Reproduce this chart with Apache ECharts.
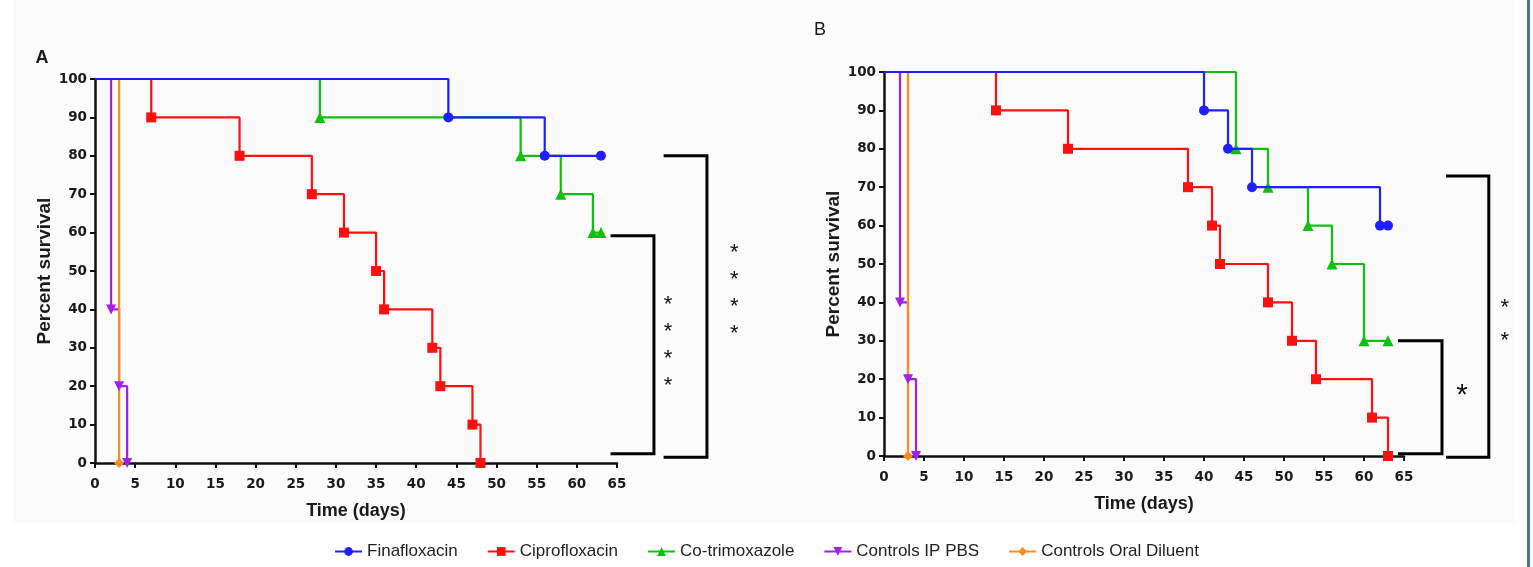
<!DOCTYPE html>
<html>
<head>
<meta charset="utf-8">
<script src="https://cdn.jsdelivr.net/npm/echarts@6/dist/echarts.min.js"></script>
<style>
  html, body { margin: 0; padding: 0; background: #ffffff; }
  #chart { width: 1533px; height: 567px; }
</style>
</head>
<body>
<div id="chart"></div>
<script>
// panel A (days, percent survival)
const aFinaDays = [0, 44, 56, 63];
const aFinaSurv = [100, 90, 80, 80];
const aCiproDays = [0, 7, 18, 27, 31, 35, 36, 42, 43, 47, 48];
const aCiproSurv = [100, 90, 80, 70, 60, 50, 40, 30, 20, 10, 0];
const aCotriDays = [0, 28, 53, 58, 62, 63];
const aCotriSurv = [100, 90, 80, 70, 60, 60];
const aPbsDays = [0, 2, 3, 4];
const aPbsSurv = [100, 40, 20, 0];
const aOralDays = [0, 3];
const aOralSurv = [100, 0];

// panel B
const bFinaDays = [0, 40, 43, 46, 62, 63];
const bFinaSurv = [100, 90, 80, 70, 60, 60];
const bCiproDays = [0, 14, 23, 38, 41, 42, 48, 51, 54, 61, 63];
const bCiproSurv = [100, 90, 80, 70, 60, 50, 40, 30, 20, 10, 0];
const bCotriDays = [0, 44, 48, 53, 56, 60, 63];
const bCotriSurv = [100, 80, 70, 60, 50, 30, 30];
const bPbsDays = [0, 2, 3, 4];
const bPbsSurv = [100, 40, 20, 0];
const bOralDays = [0, 3];
const bOralSurv = [100, 0];

const groupNames = ["Finafloxacin", "Ciprofloxacin", "Co-trimoxazole", "Controls IP PBS", "Controls Oral Diluent"];
const groupColors = ["#1f1fff", "#ff1010", "#10c010", "#a020f0", "#ff8c1a"];
const groupSymbols = ["circle", "rect", "triangle", "path://M0,0 L10,0 L5,10 Z", "diamond"];
const dayTicks = [0, 5, 10, 15, 20, 25, 30, 35, 40, 45, 50, 55, 60, 65];
const survTicks = [0, 10, 20, 30, 40, 50, 60, 70, 80, 90, 100];

const textColor = "#1a1a1a";
const font = "Liberation Sans, Arial, sans-serif";
const tickFont = "DejaVu Sans, Liberation Sans, sans-serif";

function kmData(days, surv) {
  return days.map((d, i) => ({
    value: [d, surv[i]],
    symbol: i === 0 ? "none" : undefined,
  }));
}

function kmSeries(idx, days, surv, grid) {
  return {
    name: groupNames[idx],
    type: "line",
    step: "end",
    xAxisIndex: grid,
    yAxisIndex: grid,
    data: kmData(days, surv),
    symbol: groupSymbols[idx],
    symbolSize: idx === 2 ? 11 : 10,
    color: groupColors[idx],
    lineStyle: { width: 2.2 },
    itemStyle: { color: groupColors[idx] },
    clip: false,
    animation: false,
    z: idx === 0 ? 4 : 3,
  };
}

function xAxisFor(grid) {
  return {
    type: "value",
    gridIndex: grid,
    min: 0,
    max: 65,
    interval: 5,
    name: "Time (days)",
    nameLocation: "middle",
    nameGap: 39,
    nameTextStyle: { fontFamily: font, fontWeight: "bold", fontSize: 18, color: textColor },
    axisLine: { show: true, onZero: false, lineStyle: { color: "#111", width: 2.5 } },
    axisTick: { show: true, inside: false, length: 5, lineStyle: { color: "#111", width: 2 } },
    axisLabel: {
      fontFamily: tickFont, fontWeight: "bold", fontSize: 13.5, color: textColor, margin: 14,
      formatter: (v) => (dayTicks.includes(v) ? String(v) : ""),
    },
    splitLine: { show: false },
  };
}

function yAxisFor(grid) {
  return {
    type: "value",
    gridIndex: grid,
    min: 0,
    max: 100,
    interval: 10,
    name: "Percent survival",
    nameLocation: "middle",
    nameGap: 41,
    nameTextStyle: { fontFamily: font, fontWeight: "bold", fontSize: 19, color: textColor },
    axisLine: { show: true, onZero: false, lineStyle: { color: "#111", width: 2.5 } },
    axisTick: { show: true, inside: false, length: 5, lineStyle: { color: "#111", width: 2 } },
    axisLabel: {
      fontFamily: tickFont, fontWeight: "bold", fontSize: 13.5, color: textColor, margin: 8,
      formatter: (v) => (survTicks.includes(v) ? String(v) : ""),
    },
    splitLine: { show: false },
  };
}

const chart = echarts.init(document.getElementById("chart"), null, { renderer: "canvas" });

const option = {
  backgroundColor: "#ffffff",
  animation: false,
  textStyle: { fontFamily: font },
  grid: [
    { left: 95, top: 79, width: 522, height: 384 },
    { left: 884, top: 72, width: 520, height: 384 },
  ],
  xAxis: [xAxisFor(0), xAxisFor(1)],
  yAxis: [yAxisFor(0), yAxisFor(1)],
  legend: {
    data: groupNames,
    bottom: 2,
    left: "center",
    itemWidth: 27,
    itemHeight: 11,
    itemGap: 29,
    textStyle: { fontFamily: font, fontSize: 17, color: "#222" },
  },
  series: [
    kmSeries(3, aPbsDays, aPbsSurv, 0),
    kmSeries(4, aOralDays, aOralSurv, 0),
    kmSeries(1, aCiproDays, aCiproSurv, 0),
    kmSeries(2, aCotriDays, aCotriSurv, 0),
    kmSeries(0, aFinaDays, aFinaSurv, 0),
    kmSeries(3, bPbsDays, bPbsSurv, 1),
    kmSeries(4, bOralDays, bOralSurv, 1),
    kmSeries(1, bCiproDays, bCiproSurv, 1),
    kmSeries(2, bCotriDays, bCotriSurv, 1),
    kmSeries(0, bFinaDays, bFinaSurv, 1),
  ],
};

chart.setOption(option);

// annotations (brackets, significance stars) placed through the axes
function px(grid, x, y) {
  return chart.convertToPixel({ gridIndex: grid }, [x, y]);
}
function bracket(grid, x0, x1, top, bottom) {
  return {
    type: "polyline",
    z: 5,
    shape: { points: [px(grid, x0, top), px(grid, x1, top), px(grid, x1, bottom), px(grid, x0, bottom)] },
    style: { stroke: "#000", lineWidth: 3, fill: null, lineJoin: "miter" },
  };
}
function stars(grid, x, y, count, size, gap) {
  const p = px(grid, x, y);
  return {
    type: "text",
    x: p[0],
    y: p[1],
    style: {
      text: Array(count).fill("*").join("\n"),
      fontFamily: font,
      fontSize: size,
      lineHeight: gap,
      fill: "#111",
      align: "center",
      verticalAlign: "middle",
    },
  };
}
const pA = px(0, 0, 100);
const pB = px(1, 0, 100);

chart.setOption({
  graphic: [
    { type: "rect", z: -10, shape: { x: 13, y: 0, width: 1502, height: 523 }, style: { fill: "#fbfbfb" } },
    { type: "rect", z: -5, shape: { x: 1527, y: 0, width: 3, height: 567 }, style: { fill: "#4d7496" } },
    {
      type: "text", x: pA[0] - 53, y: pA[1] - 21,
      style: { text: "A", fontFamily: font, fontWeight: "bold", fontSize: 18, fill: textColor, align: "center", verticalAlign: "middle" },
    },
    {
      type: "text", x: pB[0] - 64, y: pB[1] - 42,
      style: { text: "B", fontFamily: font, fontSize: 18, fill: textColor, align: "center", verticalAlign: "middle" },
    },
    bracket(0, 64.2, 69.6, 59.2, 2.4),
    bracket(0, 70.8, 76.2, 80, 1.5),
    bracket(1, 64.25, 69.75, 30, 0.6),
    bracket(1, 70.25, 75.6, 72.9, -0.3),
    stars(0, 71.35, 30.7, 4, 22, 27),
    stars(0, 79.6, 44.2, 4, 22, 27),
    stars(1, 72.25, 15.6, 1, 30, 30),
    stars(1, 77.6, 34.3, 2, 22, 33),
  ],
});

window.onresize = () => {
  chart.resize();
};
</script>
</body>
</html>
